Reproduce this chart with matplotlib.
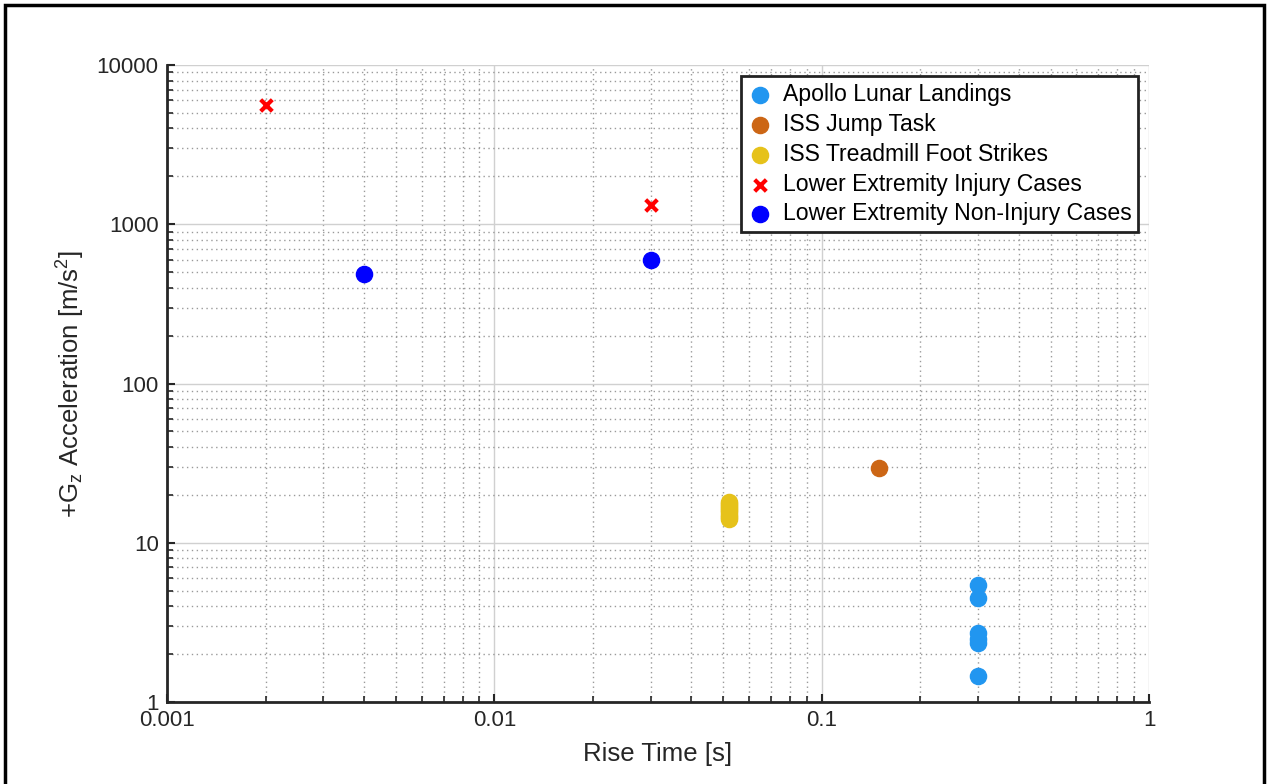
import matplotlib
matplotlib.use("Agg")
import matplotlib.pyplot as plt
from matplotlib.patches import Rectangle
from matplotlib.ticker import FixedLocator, FixedFormatter, LogLocator, NullFormatter

plt.rcParams["font.family"] = ["Liberation Sans", "DejaVu Sans"]
plt.rcParams["mathtext.default"] = "regular"

# Daten
apollo_t = [0.3, 0.3, 0.3, 0.3, 0.3, 0.3]
apollo_g = [5.4, 4.5, 2.7, 2.5, 2.35, 1.45]

jump_t = [0.15]
jump_g = [29.5]

tread_t = [0.052, 0.052, 0.052, 0.052, 0.052, 0.052, 0.052, 0.052, 0.052]
tread_g = [14.0, 14.5, 15.0, 15.5, 16.0, 16.5, 17.0, 17.5, 18.0]

injury_t = [0.002, 0.03]
injury_g = [5600, 1320]

noninj_t = [0.004, 0.03]
noninj_g = [490, 600]

x_ticks = [0.001, 0.01, 0.1, 1]
x_labels = ["0.001", "0.01", "0.1", "1"]
y_ticks = [1, 10, 100, 1000, 10000]
y_labels = ["1", "10", "100", "1000", "10000"]

# Farben
c_apollo = "#2196F0"
c_jump = "#CC6615"
c_tread = "#E6C21A"
c_inj = "#FF0000"
c_non = "#0000FF"

fig = plt.figure(figsize=(12.68, 7.84), dpi=100)
ax = fig.add_axes([0.1317, 0.1046, 0.7745, 0.8124])

# Rahmen um die Abbildung
fig.patches.append(Rectangle((0.004, -0.1), 0.9928, 1.0936, transform=fig.transFigure,
                             fill=False, edgecolor="black", linewidth=2.5, zorder=0))

ax.scatter(apollo_t, apollo_g, s=135, color=c_apollo, label="Apollo Lunar Landings", zorder=3)
ax.scatter(jump_t, jump_g, s=135, color=c_jump, label="ISS Jump Task", zorder=3)
ax.scatter(tread_t, tread_g, s=135, color=c_tread, label="ISS Treadmill Foot Strikes", zorder=3)
ax.scatter(injury_t, injury_g, s=70, marker="x", linewidths=3, color=c_inj,
           label="Lower Extremity Injury Cases", zorder=3)
ax.scatter(noninj_t, noninj_g, s=135, color=c_non, label="Lower Extremity Non-Injury Cases", zorder=3)

ax.set_xscale("log")
ax.set_yscale("log")
ax.set_xlim(0.001, 1)
ax.set_ylim(1, 10000)

ax.xaxis.set_major_locator(FixedLocator(x_ticks))
ax.xaxis.set_major_formatter(FixedFormatter(x_labels))
ax.yaxis.set_major_locator(FixedLocator(y_ticks))
ax.yaxis.set_major_formatter(FixedFormatter(y_labels))
ax.xaxis.set_minor_locator(LogLocator(base=10, subs=range(2, 10)))
ax.yaxis.set_minor_locator(LogLocator(base=10, subs=range(2, 10)))
ax.xaxis.set_minor_formatter(NullFormatter())
ax.yaxis.set_minor_formatter(NullFormatter())

ax.grid(True, which="major", color="#d0d0d0", linewidth=1.0, linestyle="-")
ax.grid(True, which="minor", color="#9a9a9a", linewidth=1.0, linestyle=(0, (1, 2.5)))
ax.set_axisbelow(True)

for side in ["top", "right"]:
    ax.spines[side].set_visible(False)
for side in ["left", "bottom"]:
    ax.spines[side].set_linewidth(2.0)
    ax.spines[side].set_color("#262626")

ax.tick_params(which="major", direction="in", length=6, width=1.5, labelsize=16, colors="#262626",
               labelcolor="#262626", pad=6)
ax.tick_params(which="minor", direction="in", length=4, width=1.2, colors="#262626")

ax.set_xlabel("Rise Time [s]", fontsize=18.5, color="#262626", labelpad=8)
ax.set_ylabel(r"+G$_z$ Acceleration [m/s$^2$]", fontsize=18.5, color="#262626", labelpad=7)

leg = ax.legend(loc="upper right", bbox_to_anchor=(0.989, 0.983), fontsize=16.6,
                frameon=True, fancybox=False, framealpha=1, edgecolor="#222222",
                handletextpad=0.5, borderpad=0.3, labelspacing=0.3, handlelength=1.0,
                borderaxespad=0)
leg.get_frame().set_linewidth(2.0)

fig.savefig("out.png", dpi=100)
